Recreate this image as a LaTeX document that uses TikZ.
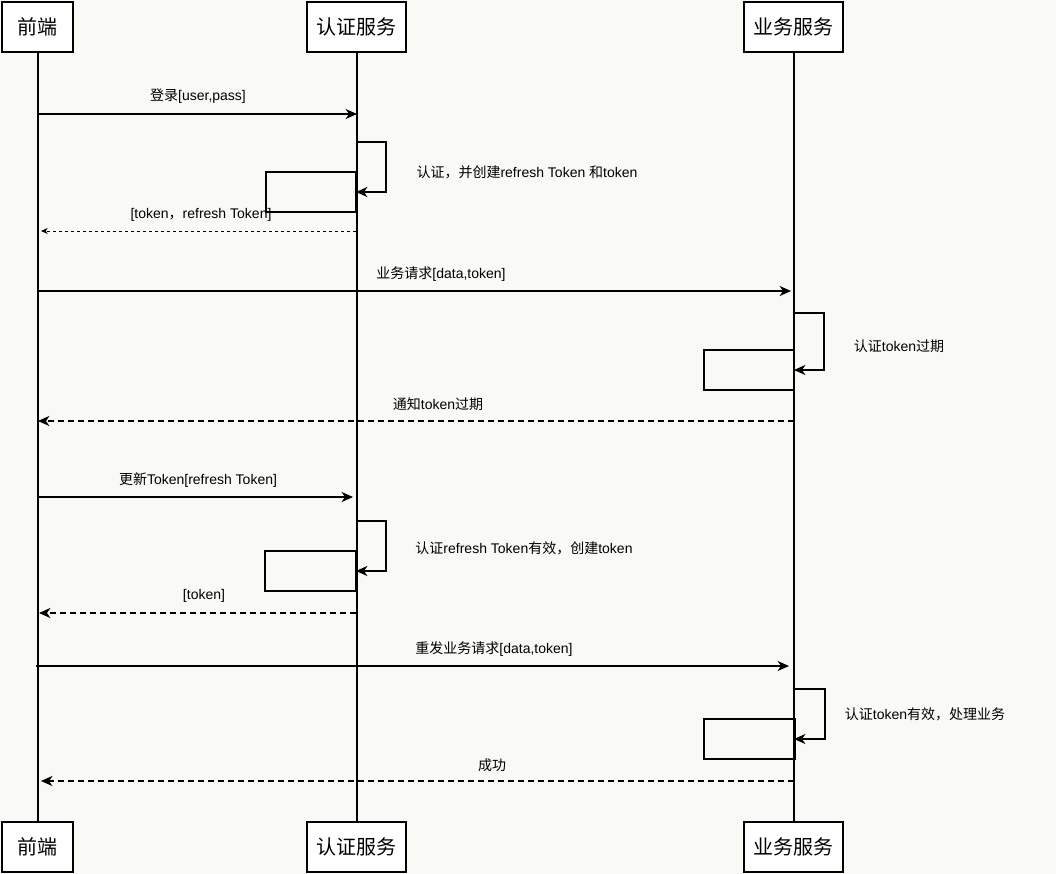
\documentclass[tikz,border=0pt]{standalone}
\usepackage{fontspec}
\setmainfont{Liberation Sans}
\newfontfamily\cjk{Noto Sans CJK SC}
\usetikzlibrary{arrows.meta}
\definecolor{bg}{RGB}{249,249,246}
\begin{document}
\begin{tikzpicture}[x=0.75pt,y=-0.75pt,
  actor/.style={draw, line width=1.5pt, fill=white, inner sep=0pt, minimum height=37.5pt, font=\fontsize{15pt}{18pt}\cjk},
  lifeline/.style={line width=1.5pt},
  msg/.style={line width=1.5pt, -{Stealth[length=8.5pt,width=7.5pt,inset=2.5pt]}},
  ret/.style={line width=1.5pt, dash pattern=on 4.5pt off 3pt, -{Stealth[length=8.5pt,width=7.5pt,inset=2.5pt]}},
  thinret/.style={line width=0.75pt, dash pattern=on 2.25pt off 2.25pt, -{Stealth[length=5pt,width=4.5pt,inset=1.5pt]}},
  act/.style={line width=1.5pt},
  lbl/.style={inner sep=0pt, font=\fontsize{10.5pt}{12pt}\selectfont}]
\fill[bg] (0,0) rectangle (1056,874);
\useasboundingbox (0,0) rectangle (1056,874);

% actors
\node[actor, minimum width=53.25pt] (fe)  at (37.5,27) {前端};
\node[actor, minimum width=74.25pt] (au)  at (356.5,27) {认证服务};
\node[actor, minimum width=74.25pt] (bs)  at (793.5,27) {业务服务};
\node[actor, minimum width=53.25pt] (fe2) at (37.5,847) {前端};
\node[actor, minimum width=74.25pt] (au2) at (356.5,847) {认证服务};
\node[actor, minimum width=74.25pt] (bs2) at (793.5,847) {业务服务};

% lifelines
\draw[lifeline] ([xshift=0.5pt]fe.south) -- ([xshift=0.5pt]fe2.north);
\draw[lifeline] (au.south) -- (au2.north);
\draw[lifeline] (bs.south) -- (bs2.north);

% coordinates
\coordinate (m1s) at (38,114);  \coordinate (m1e) at (357,114);
\coordinate (s1a) at (356,142); \coordinate (s1b) at (356,192);
\coordinate (m3s) at (356,231); \coordinate (m3e) at (41,231);
\coordinate (m4s) at (38,291);  \coordinate (m4e) at (791,291);
\coordinate (s2a) at (794,313); \coordinate (s2b) at (794,370);
\coordinate (m6s) at (794,421); \coordinate (m6e) at (38,421);
\coordinate (m7s) at (38,497);  \coordinate (m7e) at (353,497);
\coordinate (s3a) at (356,521); \coordinate (s3b) at (356,571);
\coordinate (m9s) at (356,613); \coordinate (m9e) at (39,613);
\coordinate (m10s) at (36,666); \coordinate (m10e) at (789,666);
\coordinate (s4a) at (794,689); \coordinate (s4b) at (794,739);
\coordinate (m12s) at (794,781); \coordinate (m12e) at (41,781);

% activation boxes
\draw[act] (266,172) rectangle (356,212);
\draw[act] (703.5,350) rectangle (794,389.5);
\draw[act] (265,551) rectangle (356,591);
\draw[act] (704,719) rectangle (795,759);

% messages
\draw[msg] (m1s) -- (m1e);
\node[lbl] (l1) at (198,96) {{\cjk 登录}[user,pass]};

\draw[msg] (s1a) -- ++(30,0) |- (s1b);
\node[lbl] (l2) at (527,172) {{\cjk 认证，并创建}refresh Token {\cjk 和}token};

\draw[thinret] (m3s) -- (m3e);
\node[lbl] (l3) at (201,215) {[token{\cjk ，}refresh Token]};

\draw[msg] (m4s) -- (m4e);
\node[lbl] (l4) at (441,274) {{\cjk 业务请求}[data,token]};

\draw[msg] (s2a) -- ++(30,0) |- (s2b);
\node[lbl] (l5) at (899,346) {{\cjk 认证}token{\cjk 过期}};

\draw[ret] (m6s) -- (m6e);
\node[lbl] (l6) at (438,404) {{\cjk 通知}token{\cjk 过期}};

\draw[msg] (m7s) -- (m7e);
\node[lbl] (l7) at (198,480) {{\cjk 更新}Token[refresh Token]};

\draw[msg] (s3a) -- ++(30,0) |- (s3b);
\node[lbl] (l8) at (524,548) {{\cjk 认证}refresh Token{\cjk 有效，创建}token};

\draw[ret] (m9s) -- (m9e);
\node[lbl] (l9) at (204,596) {[token]};

\draw[msg] (m10s) -- (m10e);
\node[lbl] (l10) at (494,649) {{\cjk 重发业务请求}[data,token]};

\draw[msg] (s4a) -- ++(31,0) |- (s4b);
\node[lbl] (l11) at (925,714) {{\cjk 认证}token{\cjk 有效，处理业务}};

\draw[ret] (m12s) -- (m12e);
\node[lbl] (l12) at (492,765) {{\cjk 成功}};
\end{tikzpicture}
\end{document}
